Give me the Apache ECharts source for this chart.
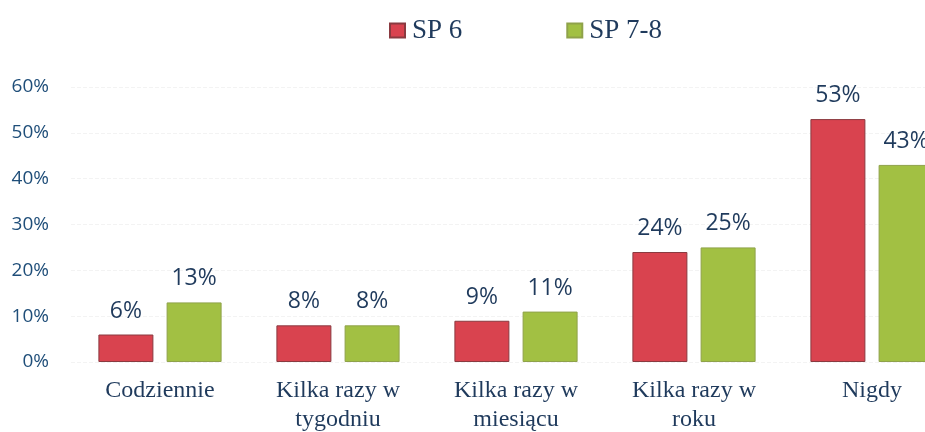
<!DOCTYPE html>
<html>
	<head>
		<meta charset="utf-8">
		<title>SP 6 / SP 7-8</title>
		<style>
html, body {
	width: 100%;
	height: 100%;
	margin: 0;
	background: #fff;
}
#box1 {
	width: 925px;
	height: 432px;
}
		</style>
	</head>
	<body>
		<div id="box1"></div>
	</body>
	<script src="https://cdn.jsdelivr.net/npm/echarts@6/dist/echarts.min.js"></script>
	<script type="text/javascript">
var categories = ['Codziennie', 'Kilka razy w\ntygodniu', 'Kilka razy w\nmiesiącu', 'Kilka razy w\nroku', 'Nigdy'];
var sp6 = [6, 8, 9, 24, 53];
var sp78 = [13, 8, 11, 25, 43];
var yTicks = [0, 10, 20, 30, 40, 50, 60];

var myChart = echarts.init(document.getElementById('box1'));

var labelStyle = {
	show: true,
	position: 'top',
	distance: 12,
	formatter: '{c}%',
	color: '#1f3a5c',
	fontFamily: 'Open Sans',
	fontSize: 23
};

var option = {
	animation: false,
	backgroundColor: '#fff',
	legend: {
		top: 12,
		left: 384,
		itemGap: 104,
		itemWidth: 15,
		itemHeight: 14,
		icon: 'rect',
		textStyle: {
			fontFamily: 'Liberation Serif',
			fontSize: 27,
			padding: [0, 0, 0, 2],
			color: '#1f3a5c'
		},
		data: ['SP 6', 'SP 7-8']
	},
	grid: {
		left: 71,
		right: -36,
		top: 87,
		bottom: 70,
		outerBoundsMode: 'none',
		containLabel: false
	},
	xAxis: {
		type: 'category',
		data: categories,
		axisLine: { show: false },
		axisTick: { show: false },
		axisLabel: {
			margin: 14,
			interval: 0,
			fontFamily: 'Liberation Serif',
			fontSize: 24,
			lineHeight: 29,
			color: '#1f3a5c'
		}
	},
	yAxis: {
		type: 'value',
		min: yTicks[0],
		max: yTicks[yTicks.length - 1],
		interval: 10,
		axisLine: { show: false },
		axisTick: { show: false },
		axisLabel: {
			margin: 22,
			formatter: '{value}%',
			fontFamily: 'Open Sans',
			fontSize: 19,
			color: '#1f4e79'
		},
		splitLine: {
			lineStyle: { color: '#f3f3f3', type: 'dashed' }
		}
	},
	series: [{
		name: 'SP 6',
		type: 'bar',
		data: sp6,
		barWidth: 55,
		barGap: '24%',
		itemStyle: { color: '#d9434f', borderColor: '#8a3a40', borderWidth: 1 },
		label: labelStyle
	}, {
		name: 'SP 7-8',
		type: 'bar',
		data: sp78,
		barWidth: 55,
		itemStyle: { color: '#a2c043', borderColor: '#8fa24a', borderWidth: 1 },
		label: labelStyle
	}]
};

myChart.setOption(option);
	</script>
</html>
